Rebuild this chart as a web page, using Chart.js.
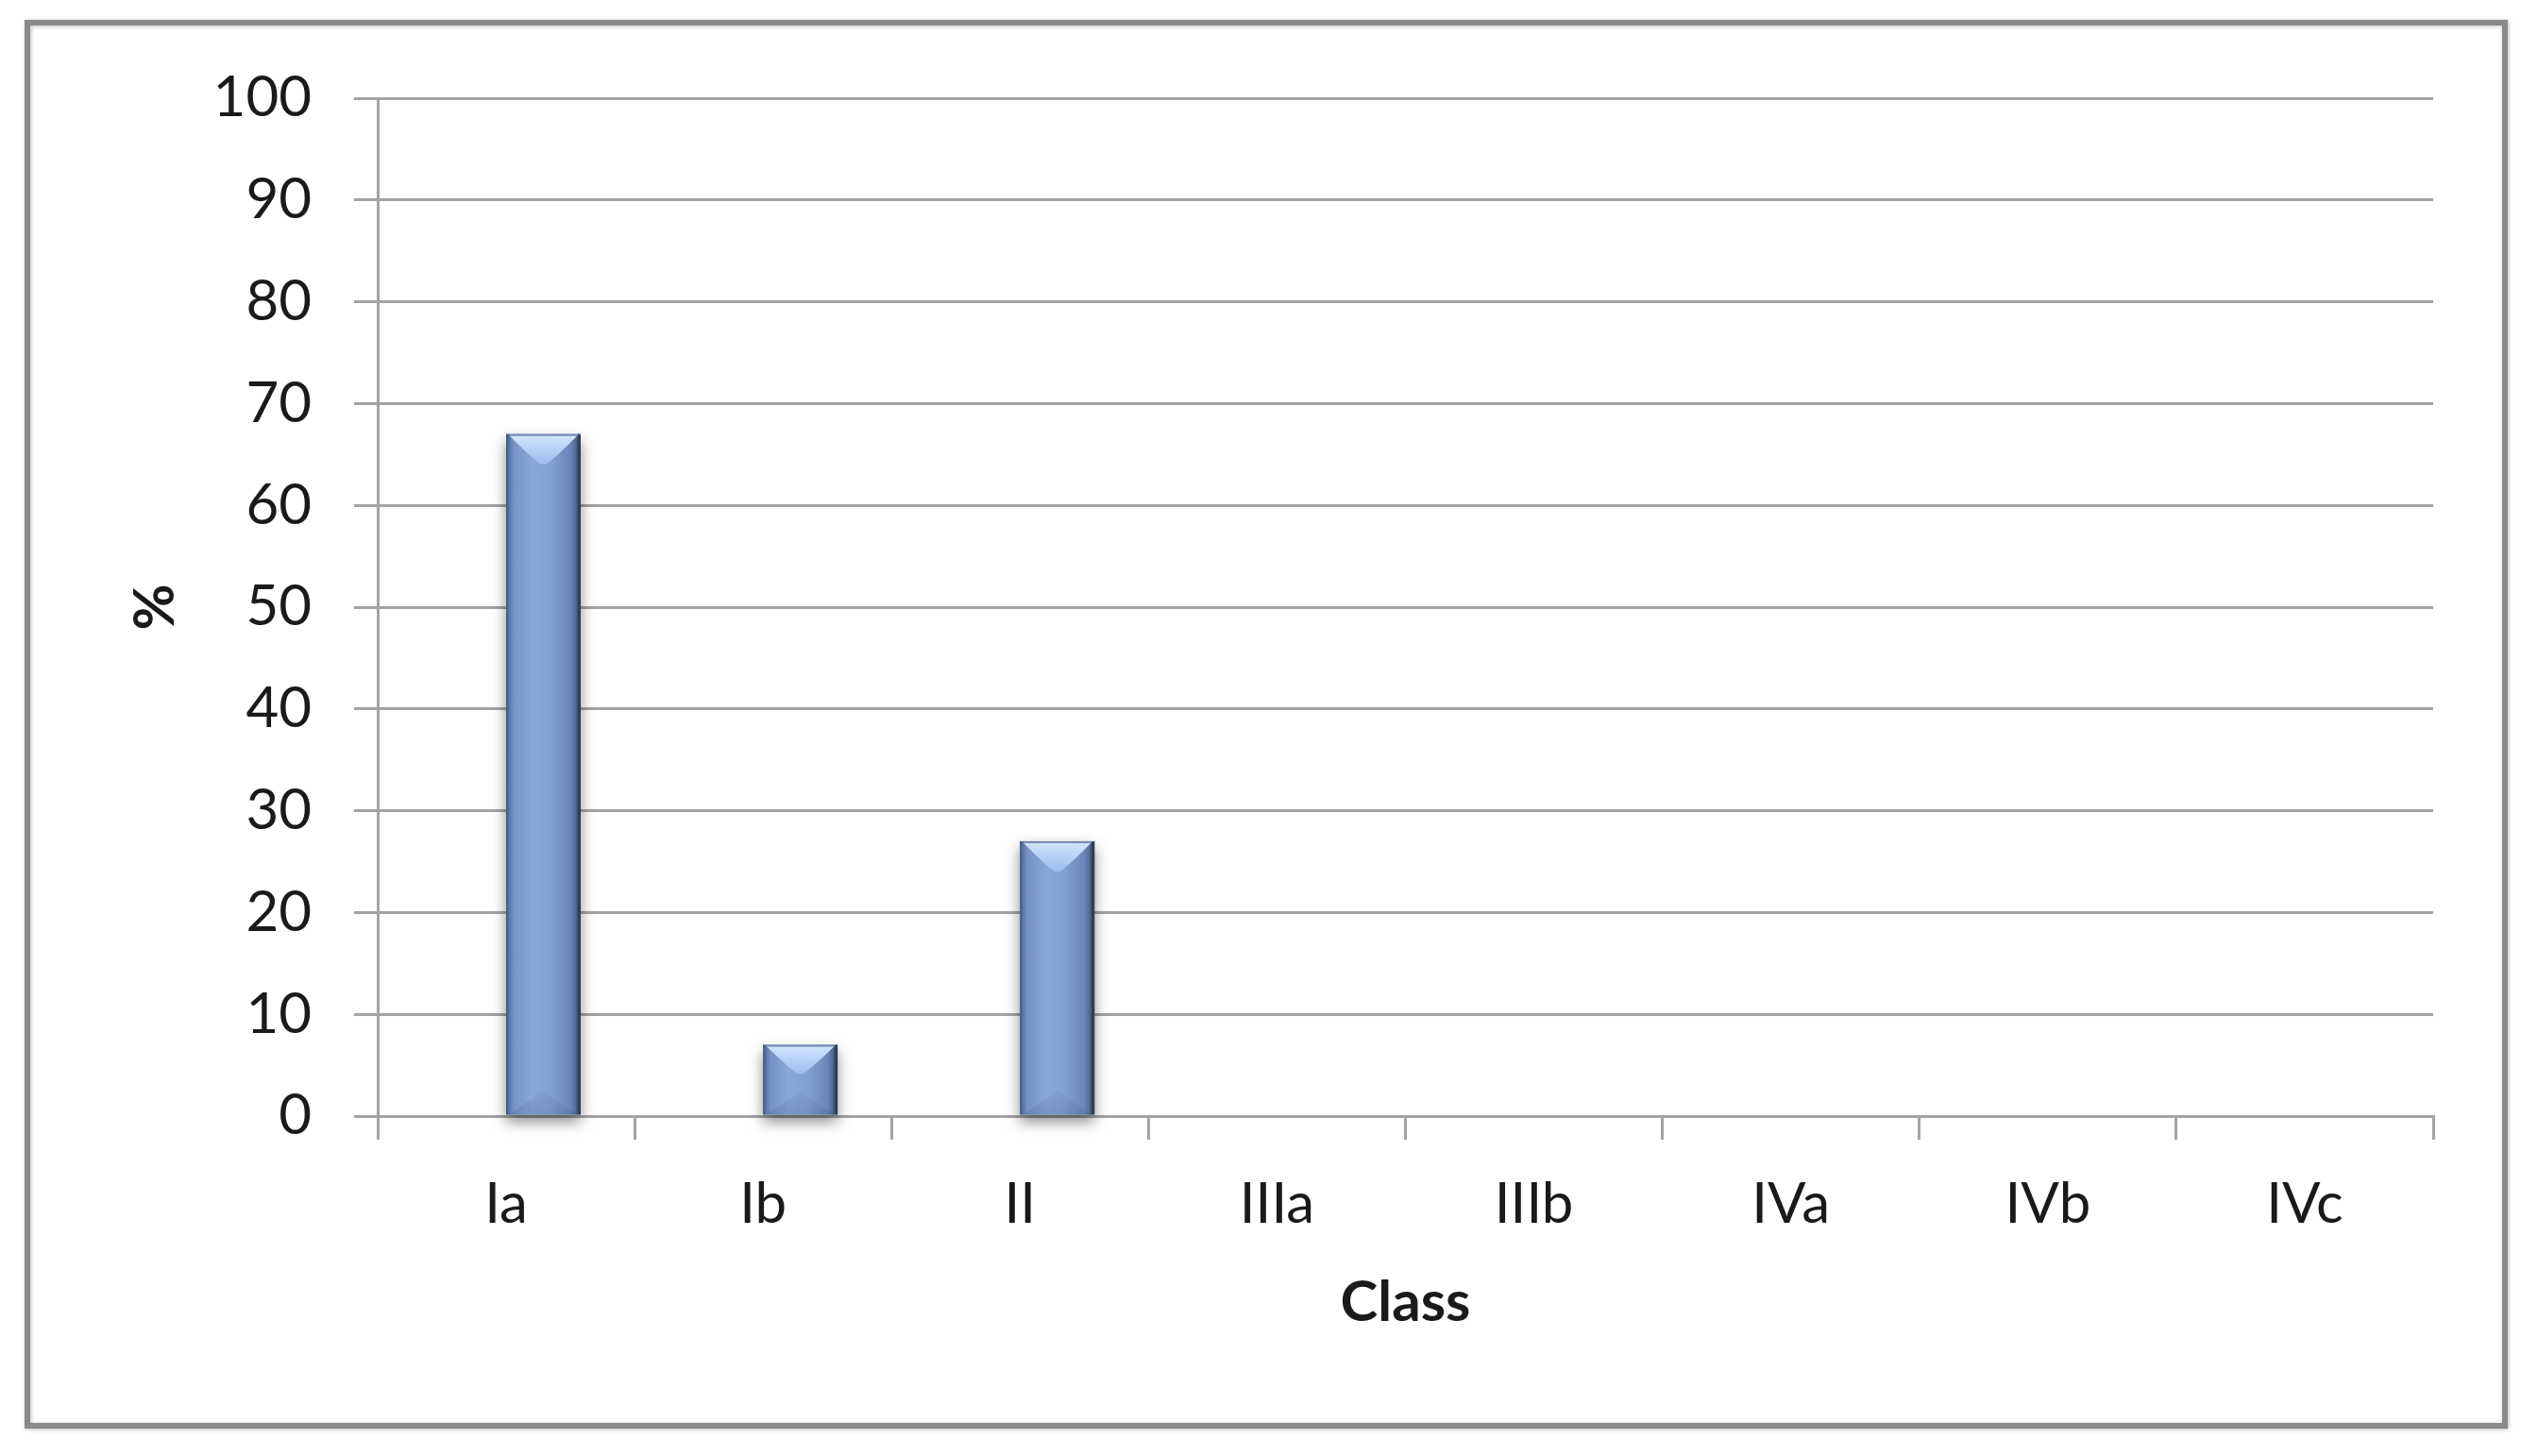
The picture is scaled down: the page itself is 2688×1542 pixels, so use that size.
<!DOCTYPE html>
<html>
<head>
<meta charset="utf-8">
<script src="https://cdn.jsdelivr.net/npm/chart.js@4.4.1/dist/chart.umd.min.js"></script>
<style>
  html, body { margin: 0; padding: 0; background: #ffffff; }
  #c { display: block; }
</style>
</head>
<body>
<canvas id="c" width="2688" height="1542"></canvas>
<script>
// ---- data ----
const categories = ['Ia', 'Ib', 'II', 'IIIa', 'IIIb', 'IVa', 'IVb', 'IVc'];
const seriesEmpty = [0, 0, 0, 0, 0, 0, 0, 0];
const seriesPercent = [67, 7, 27, 0, 0, 0, 0, 0];
const yMin = 0;
const yMax = 100;
const yStep = 10;
const xTitle = 'Class';
const yTitle = '%';

const GRID = '#a3a3a3';
const TEXT = '#1a1a1a';
const FONT = 'Lato, "Open Sans", sans-serif';

const framePlugin = {
  id: 'frame',
  beforeDraw(chart) {
    const ctx = chart.ctx;
    ctx.save();
    ctx.fillStyle = '#ffffff';
    ctx.fillRect(0, 0, chart.width, chart.height);
    ctx.shadowColor = 'rgba(0,0,0,0.25)';
    ctx.shadowBlur = 4;
    ctx.shadowOffsetX = 1;
    ctx.shadowOffsetY = 1;
    ctx.strokeStyle = '#8a8a8a';
    ctx.lineWidth = 6;
    ctx.strokeRect(29, 24, 2624, 1486);
    ctx.restore();
  }
};

const bevelPlugin = {
  id: 'bevel',
  afterDatasetsDraw(chart) {
    const ctx = chart.ctx;
    const meta = chart.getDatasetMeta(1);
    meta.data.forEach((bar) => {
      const p = bar.getProps(['x', 'y', 'base', 'width'], true);
      const l = p.x - p.width / 2, r = p.x + p.width / 2;
      const t = Math.min(p.y, p.base), b = Math.max(p.y, p.base);
      const h = b - t;
      if (h < 1) return;
      const w = r - l;
      ctx.save();
      // drop shadow
      ctx.shadowColor = 'rgba(0,0,0,0.45)';
      ctx.shadowBlur = 14;
      ctx.shadowOffsetY = 7;
      ctx.fillStyle = '#7e9acb';
      ctx.fillRect(l, t, w, h);
      ctx.restore();

      ctx.save();
      // body gradient
      const g = ctx.createLinearGradient(l, 0, r, 0);
      g.addColorStop(0, '#3f5479');
      g.addColorStop(0.04, '#5a76a6');
      g.addColorStop(0.1, '#7692c4');
      g.addColorStop(0.35, '#8aa7da');
      g.addColorStop(0.6, '#83a0d2');
      g.addColorStop(0.86, '#6b87b9');
      g.addColorStop(0.93, '#536d9a');
      g.addColorStop(0.97, '#33445f');
      g.addColorStop(1, '#263349');
      ctx.fillStyle = g;
      ctx.fillRect(l, t, w, h);

      // bottom bevel (subtle darker)
      const d = Math.min(32, h / 2.4);
      ctx.beginPath();
      ctx.moveTo(l + 3, b);
      ctx.lineTo(p.x, b - d * 0.8);
      ctx.lineTo(r - 3, b);
      ctx.closePath();
      const gb = ctx.createLinearGradient(0, b - d, 0, b);
      gb.addColorStop(0, 'rgba(40,60,100,0.02)');
      gb.addColorStop(1, 'rgba(40,60,100,0.16)');
      ctx.fillStyle = gb;
      ctx.fill();

      // top bevel (light)
      ctx.beginPath();
      ctx.moveTo(l + 2, t);
      ctx.lineTo(r - 2, t);
      ctx.quadraticCurveTo(p.x + w * 0.2, t + d * 0.7, p.x + 3, t + d);
      ctx.lineTo(p.x - 3, t + d);
      ctx.quadraticCurveTo(p.x - w * 0.2, t + d * 0.7, l + 2, t);
      ctx.closePath();
      const gt = ctx.createLinearGradient(0, t, 0, t + d);
      gt.addColorStop(0, '#d4e6fc');
      gt.addColorStop(0.5, '#b8d2f6');
      gt.addColorStop(1, '#9dbbea');
      ctx.fillStyle = gt;
      ctx.fill();

      // top edge line
      ctx.fillStyle = 'rgba(60,80,120,0.6)';
      ctx.fillRect(l, t, w, 2);
      ctx.restore();
    });
  }
};

new Chart(document.getElementById('c'), {
  type: 'bar',
  data: {
    labels: categories,
    datasets: [
      {
        label: 'empty',
        data: seriesEmpty,
        backgroundColor: 'rgba(0,0,0,0)',
        borderWidth: 0
      },
      {
        label: '%',
        data: seriesPercent,
        backgroundColor: 'rgba(0,0,0,0)',
        borderWidth: 0
      }
    ]
  },
  options: {
    responsive: false,
    devicePixelRatio: 1,
    animation: false,
    events: [],
    categoryPercentage: 0.58,
    barPercentage: 1.0,
    layout: { padding: { left: 125, right: 111, top: 104, bottom: 122 } },
    plugins: {
      legend: { display: false },
      tooltip: { enabled: false },
      title: { display: false }
    },
    scales: {
      x: {
        offset: true,
        grid: {
          offset: true,
          drawOnChartArea: false,
          drawTicks: true,
          tickLength: 25,
          color: GRID,
          lineWidth: 3
        },
        border: { display: true, color: GRID, width: 3 },
        ticks: {
          color: TEXT,
          padding: 33,
          font: { family: FONT, size: 60 },
          maxRotation: 0,
          autoSkip: false
        },
        title: {
          display: true,
          text: xTitle,
          color: TEXT,
          font: { family: FONT, size: 60, weight: 'bold' },
          padding: 4
        },
        afterFit(scale) { scale.height = 238; }
      },
      y: {
        min: yMin,
        max: yMax,
        grid: {
          drawTicks: true,
          tickLength: 25,
          color: GRID,
          lineWidth: 3
        },
        border: { display: true, color: GRID, width: 3 },
        ticks: {
          stepSize: yStep,
          color: TEXT,
          padding: 45,
          font: { family: FONT, size: 60 }
        },
        title: {
          display: true,
          text: yTitle,
          color: TEXT,
          font: { family: FONT, size: 60, weight: 'bold' },
          padding: 4
        },
        afterFit(scale) { scale.width = 275; }
      }
    }
  },
  plugins: [framePlugin, bevelPlugin]
});
</script>
</body>
</html>
